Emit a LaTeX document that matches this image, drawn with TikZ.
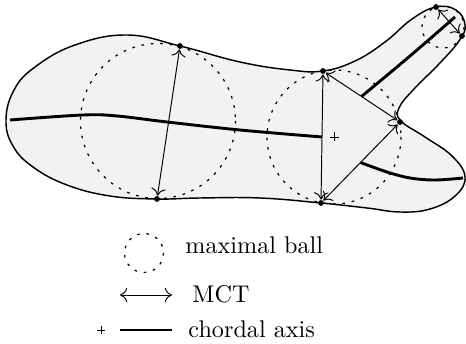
\documentclass[tikz,border=0pt]{standalone}
\usepackage{tikz}
\usetikzlibrary{arrows.meta,calc}
\definecolor{shade}{HTML}{F2F2F2}

\begin{document}
\begin{tikzpicture}[
  x=0.414pt, y=-0.414pt,
  outline/.style={draw=black, line width=0.6pt, fill=shade},
  ball/.style={draw=black, line width=0.5pt, dash pattern=on 1.1pt off 2.8pt},
  mct/.style={{To[length=3pt,width=6pt]}-{To[length=3pt,width=6pt]}, line width=0.4pt},
  chordal/.style={line width=1.2pt},
  vertex/.style={circle, fill=black, inner sep=0pt, minimum size=2.4pt},
  legendtext/.style={anchor=base west, inner sep=0pt}
]
  \useasboundingbox (0,0) rectangle (466,344);

  % shape
  \draw[outline] plot[smooth cycle, tension=0.7] coordinates {
    (6,120) (14,90) (35,67) (75,45) (127,35) (180,46) (240,62) (290,70)
    (323,71) (355,61) (385,42) (412,19) (436,7) (456,10) (465,25) (459,41)
    (438,65) (414,89) (399,108) (401,121) (425,137) (452,156) (465,177)
    (455,196) (430,209) (400,212) (367,208) (321,203) (260,198) (200,198)
    (157,199) (110,196) (67,185) (33,167) (13,146)};

  % maximal balls
  \draw[ball] (158,121) circle[radius=77.5];
  \draw[ball] (334,137) circle[radius=67];
  \draw[ball] (443,27) circle[radius=21];

  % contact points
  \node[vertex] (a) at (180,46) {};
  \node[vertex] (e) at (157,199) {};
  \node[vertex] (b) at (323,71) {};
  \node[vertex] (c) at (400,122) {};
  \node[vertex] (d) at (321,203) {};
  \node[vertex] (t1) at (436,7) {};
  \node[vertex] (t2) at (462,36) {};

  % MCTs
  \draw[mct] (a) -- (e);
  \draw[mct] (b) -- (d);
  \draw[mct] (b) -- (c);
  \draw[mct] (c) -- (d);
  \draw[mct] (t1) -- (t2);

  % chordal axis
  \coordinate (mbd) at ($(b)!0.5!(d)$);
  \coordinate (mbc) at ($(b)!0.5!(c)$);
  \coordinate (mcd) at ($(c)!0.5!(d)$);
  \coordinate (ctr) at (334,137);
  \draw[chordal] plot[smooth, tension=0.6] coordinates {
    (10,120) (83,115) (117,116) (167,122) (240,130) (mbd)};
  \draw[chordal] plot[smooth, tension=0.6] coordinates {
    (mbc) (410,56) (455,17)};
  \draw[chordal] plot[smooth, tension=0.6] coordinates {
    (mcd) (387,172) (410,178) (435,180) (463,178)};
  \draw[line width=0.4pt] (ctr) +(-4.5,0) -- +(4.5,0) (ctr) +(0,-4.5) -- +(0,4.5);

  % legend
  \coordinate (lball) at (144,253);
  \draw[ball] (lball) circle[radius=19.5];
  \node[legendtext] (tball) at (185,254) {maximal ball};

  \coordinate (lm1) at (120,295);
  \coordinate (lm2) at (172,295);
  \draw[mct] (lm1) -- (lm2);
  \node[legendtext] (tmct) at (192,302) {MCT};

  \coordinate (lplus) at (101,330);
  \coordinate (la1) at (120,330);
  \coordinate (la2) at (172,330);
  \draw[line width=0.4pt] (lplus) +(-4,0) -- +(4,0) (lplus) +(0,-4) -- +(0,4);
  \draw[chordal] (la1) -- (la2);
  \node[legendtext] (taxis) at (188,337) {chordal axis};
\end{tikzpicture}
\end{document}
